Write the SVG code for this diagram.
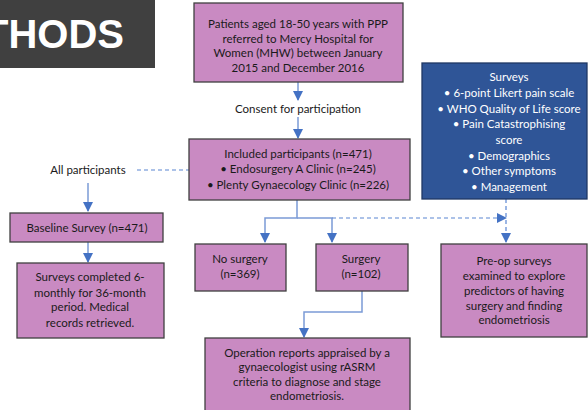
<svg xmlns="http://www.w3.org/2000/svg" width="588" height="410" viewBox="0 0 588 410">
<style>
.box{fill:#c98ac2;stroke:#404040;stroke-width:1.3}
.blue{fill:#2f5597;stroke:#1f3864;stroke-width:1.3}
.t{font-family:Lato,"Liberation Sans",sans-serif;font-size:11.5px;fill:#1a1a1a;text-anchor:middle}
.w{fill:#ffffff}
.ln{fill:none;stroke:#7b9bd6;stroke-width:1.5}
.ds{fill:none;stroke:#5b86d2;stroke-width:1.2;stroke-dasharray:4 3}
</style>
<defs>
<marker id="ah" markerWidth="10" markerHeight="10" refX="9" refY="5" orient="auto" markerUnits="userSpaceOnUse" viewBox="0 0 10 10">
<path d="M0,0 L10,5 L0,10 Z" fill="#4472c4"/>
</marker>
</defs>
<rect width="588" height="410" fill="#ffffff"/>
<g id="title">
<rect x="0" y="0" width="155" height="68" fill="#404040"/>
<text x="124" y="48" font-family="Liberation Sans,Arial,sans-serif" font-weight="bold" font-size="40" fill="#ffffff" text-anchor="end">THODS</text>
</g>
<g id="connectors">
<path class="ln" d="M298,82 V100" marker-end="url(#ah)"/>
<path class="ln" d="M298,117 V138" marker-end="url(#ah)"/>
<path class="ds" d="M137,170 H189"/>
<path class="ln" d="M88,183 V211" marker-end="url(#ah)"/>
<path class="ln" d="M88,242 V262" marker-end="url(#ah)"/>
<path class="ln" d="M297,200 V218 H265 V242" marker-end="url(#ah)"/>
<path class="ln" d="M297,218 H332 V242" marker-end="url(#ah)"/>
<path class="ds" d="M332,218 H506" marker-end="url(#ah)"/>
<path class="ds" d="M506,199 V242" marker-end="url(#ah)"/>
<path class="ln" d="M362,291 V312 H304 V337" marker-end="url(#ah)"/>
</g>
<g id="patients">
<rect class="box" x="194" y="3" width="209" height="79"/>
<text class="t" x="298" y="28">Patients aged 18-50 years with PPP</text>
<text class="t" x="298" y="43">referred to Mercy Hospital for</text>
<text class="t" x="298" y="57">Women (MHW) between January</text>
<text class="t" x="298" y="72">2015 and December 2016</text>
</g>
<g id="consent">
<text class="t" x="298" y="113">Consent for participation</text>
</g>
<g id="included">
<rect class="box" x="189" y="139" width="221" height="61"/>
<text class="t" x="298" y="158">Included participants (n=471)</text>
<text class="t" x="298" y="173">• Endosurgery A Clinic (n=245)</text>
<text class="t" x="298" y="189">• Plenty Gynaecology Clinic (n=226)</text>
</g>
<g id="all">
<text class="t" x="88" y="174">All participants</text>
</g>
<g id="baseline">
<rect class="box" x="10" y="213" width="153" height="29"/>
<text class="t" x="87" y="232">Baseline Survey (n=471)</text>
</g>
<g id="followup">
<rect class="box" x="17" y="263" width="147" height="75"/>
<text class="t" x="90" y="281">Surveys completed 6-</text>
<text class="t" x="90" y="297">monthly for 36-month</text>
<text class="t" x="90" y="311">period. Medical</text>
<text class="t" x="90" y="327">records retrieved.</text>
</g>
<g id="surveys">
<rect class="blue" x="422" y="63" width="165" height="136"/>
<text class="t w" x="509" y="81">Surveys</text>
<text class="t w" x="509" y="97">• 6-point Likert pain scale</text>
<text class="t w" x="509" y="113">• WHO Quality of Life score</text>
<text class="t w" x="509" y="128">• Pain Catastrophising</text>
<text class="t w" x="509" y="144">score</text>
<text class="t w" x="509" y="160">• Demographics</text>
<text class="t w" x="509" y="175">• Other symptoms</text>
<text class="t w" x="509" y="191">• Management</text>
</g>
<g id="nosurgery">
<rect class="box" x="195" y="244" width="91" height="47"/>
<text class="t" x="240" y="263">No surgery</text>
<text class="t" x="240" y="278">(n=369)</text>
</g>
<g id="surgery">
<rect class="box" x="316" y="244" width="92" height="47"/>
<text class="t" x="361" y="263">Surgery</text>
<text class="t" x="361" y="278">(n=102)</text>
</g>
<g id="preop">
<rect class="box" x="441" y="244" width="146" height="93"/>
<text class="t" x="514" y="265">Pre-op surveys</text>
<text class="t" x="514" y="280">examined to explore</text>
<text class="t" x="514" y="295">predictors of having</text>
<text class="t" x="514" y="310">surgery and finding</text>
<text class="t" x="514" y="324">endometriosis</text>
</g>
<g id="operation">
<rect class="box" x="205" y="338" width="205" height="75"/>
<text class="t" x="307" y="357">Operation reports appraised by a</text>
<text class="t" x="307" y="371">gynaecologist using rASRM</text>
<text class="t" x="307" y="386">criteria to diagnose and stage</text>
<text class="t" x="307" y="400">endometriosis.</text>
</g>
</svg>
